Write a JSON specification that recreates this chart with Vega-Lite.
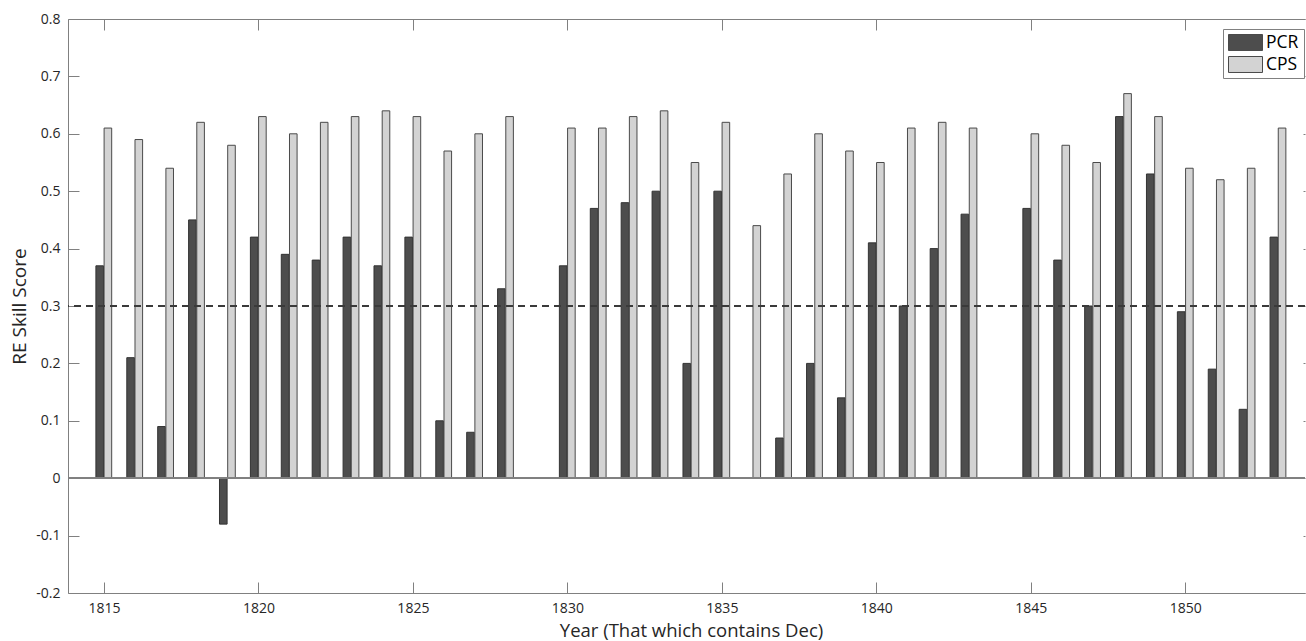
{
  "$schema": "https://vega.github.io/schema/vega-lite/v6.json",
  "autosize": {"type": "none"},
  "padding": {"left": 68, "top": 19, "right": 1, "bottom": 48},
  "width": 1237,
  "height": 574,
  "config": {
    "font": "Open Sans",
    "view": {"stroke": null},
    "axis": {"grid": false, "domainColor": "#808080", "tickColor": "#808080", "labelColor": "#262626", "titleColor": "#262626", "labelFontSize": 14, "titleFontSize": 18.5, "titleFontWeight": "normal"}
  },
  "data": {
    "values": [
      {"year": 1815, "series": "PCR", "value": 0.37}, {"year": 1815, "series": "CPS", "value": 0.61},
      {"year": 1816, "series": "PCR", "value": 0.21}, {"year": 1816, "series": "CPS", "value": 0.59},
      {"year": 1817, "series": "PCR", "value": 0.09}, {"year": 1817, "series": "CPS", "value": 0.54},
      {"year": 1818, "series": "PCR", "value": 0.45}, {"year": 1818, "series": "CPS", "value": 0.62},
      {"year": 1819, "series": "PCR", "value": -0.08}, {"year": 1819, "series": "CPS", "value": 0.58},
      {"year": 1820, "series": "PCR", "value": 0.42}, {"year": 1820, "series": "CPS", "value": 0.63},
      {"year": 1821, "series": "PCR", "value": 0.39}, {"year": 1821, "series": "CPS", "value": 0.60},
      {"year": 1822, "series": "PCR", "value": 0.38}, {"year": 1822, "series": "CPS", "value": 0.62},
      {"year": 1823, "series": "PCR", "value": 0.42}, {"year": 1823, "series": "CPS", "value": 0.63},
      {"year": 1824, "series": "PCR", "value": 0.37}, {"year": 1824, "series": "CPS", "value": 0.64},
      {"year": 1825, "series": "PCR", "value": 0.42}, {"year": 1825, "series": "CPS", "value": 0.63},
      {"year": 1826, "series": "PCR", "value": 0.10}, {"year": 1826, "series": "CPS", "value": 0.57},
      {"year": 1827, "series": "PCR", "value": 0.08}, {"year": 1827, "series": "CPS", "value": 0.60},
      {"year": 1828, "series": "PCR", "value": 0.33}, {"year": 1828, "series": "CPS", "value": 0.63},
      {"year": 1830, "series": "PCR", "value": 0.37}, {"year": 1830, "series": "CPS", "value": 0.61},
      {"year": 1831, "series": "PCR", "value": 0.47}, {"year": 1831, "series": "CPS", "value": 0.61},
      {"year": 1832, "series": "PCR", "value": 0.48}, {"year": 1832, "series": "CPS", "value": 0.63},
      {"year": 1833, "series": "PCR", "value": 0.50}, {"year": 1833, "series": "CPS", "value": 0.64},
      {"year": 1834, "series": "PCR", "value": 0.20}, {"year": 1834, "series": "CPS", "value": 0.55},
      {"year": 1835, "series": "PCR", "value": 0.50}, {"year": 1835, "series": "CPS", "value": 0.62},
      {"year": 1836, "series": "CPS", "value": 0.44},
      {"year": 1837, "series": "PCR", "value": 0.07}, {"year": 1837, "series": "CPS", "value": 0.53},
      {"year": 1838, "series": "PCR", "value": 0.20}, {"year": 1838, "series": "CPS", "value": 0.60},
      {"year": 1839, "series": "PCR", "value": 0.14}, {"year": 1839, "series": "CPS", "value": 0.57},
      {"year": 1840, "series": "PCR", "value": 0.41}, {"year": 1840, "series": "CPS", "value": 0.55},
      {"year": 1841, "series": "PCR", "value": 0.30}, {"year": 1841, "series": "CPS", "value": 0.61},
      {"year": 1842, "series": "PCR", "value": 0.40}, {"year": 1842, "series": "CPS", "value": 0.62},
      {"year": 1843, "series": "PCR", "value": 0.46}, {"year": 1843, "series": "CPS", "value": 0.61},
      {"year": 1845, "series": "PCR", "value": 0.47}, {"year": 1845, "series": "CPS", "value": 0.60},
      {"year": 1846, "series": "PCR", "value": 0.38}, {"year": 1846, "series": "CPS", "value": 0.58},
      {"year": 1847, "series": "PCR", "value": 0.30}, {"year": 1847, "series": "CPS", "value": 0.55},
      {"year": 1848, "series": "PCR", "value": 0.63}, {"year": 1848, "series": "CPS", "value": 0.67},
      {"year": 1849, "series": "PCR", "value": 0.53}, {"year": 1849, "series": "CPS", "value": 0.63},
      {"year": 1850, "series": "PCR", "value": 0.29}, {"year": 1850, "series": "CPS", "value": 0.54},
      {"year": 1851, "series": "PCR", "value": 0.19}, {"year": 1851, "series": "CPS", "value": 0.52},
      {"year": 1852, "series": "PCR", "value": 0.12}, {"year": 1852, "series": "CPS", "value": 0.54},
      {"year": 1853, "series": "PCR", "value": 0.42}, {"year": 1853, "series": "CPS", "value": 0.61}
    ]
  },
  "layer": [
    {
      "transform": [{"filter": {"field": "series", "equal": "PCR"}}],
      "mark": {"type": "bar", "width": 7.6, "xOffset": -4.2, "stroke": "#333333", "strokeWidth": 1},
      "encoding": {
        "x": {"field": "year", "type": "quantitative",
              "scale": {"domain": [1814, 1853.71], "nice": false, "zero": false},
              "axis": {"orient": "bottom", "values": [1815, 1820, 1825, 1830, 1835, 1840, 1845, 1850], "format": "d",
                       "tickSize": -11, "labelPadding": 19, "title": "Year (That which contains Dec)",
                       "titleX": 623, "titleY": 43, "titleBaseline": "alphabetic", "titleAlign": "center"}},
        "y": {"field": "value", "type": "quantitative",
              "scale": {"domain": [-0.2, 0.8], "nice": false, "zero": false},
              "axis": {"orient": "left", "values": [-0.2, -0.1, 0, 0.1, 0.2, 0.3, 0.4, 0.5, 0.6, 0.7, 0.8],
                       "labelExpr": "datum.value < 0 ? '-' + format(-datum.value, '.1~f') : format(datum.value, '.1~f')",
                       "tickSize": -11, "labelPadding": 19, "title": "RE Skill Score", "titleFontSize": 19,
                       "titleX": -43, "titleY": 287, "titleBaseline": "alphabetic", "titleAlign": "center", "titleAngle": -90}},
        "color": {"field": "series", "type": "nominal",
                  "scale": {"domain": ["PCR", "CPS"], "range": ["#4d4d4d", "#d3d3d3"]},
                  "legend": {"orient": "none", "legendX": 1155, "legendY": 10, "title": null,
                             "symbolType": "M-1,-0.47H1V0.47H-1Z", "symbolSize": 1156, "clipHeight": 17,
                             "symbolStrokeColor": "#333333", "symbolStrokeWidth": 1, "symbolOpacity": 1,
                             "labelFontSize": 17.5, "labelColor": "#000000", "labelOffset": 3,
                             "rowPadding": 4, "padding": 5, "strokeColor": "#808080", "fillColor": "#ffffff"}}
      }
    },
    {
      "transform": [{"filter": {"field": "series", "equal": "CPS"}}],
      "mark": {"type": "bar", "width": 7.6, "xOffset": 4.0, "stroke": "#4a4a4a", "strokeWidth": 1},
      "encoding": {
        "x": {"field": "year", "type": "quantitative",
              "axis": {"orient": "top", "values": [1815, 1820, 1825, 1830, 1835, 1840, 1845, 1850],
                       "tickSize": -11, "labels": false, "title": null}},
        "y": {"field": "value", "type": "quantitative",
              "axis": {"orient": "right", "values": [-0.2, -0.1, 0, 0.1, 0.2, 0.3, 0.4, 0.5, 0.6, 0.7, 0.8],
                       "tickSize": -2, "labels": false, "domain": false, "title": null}},
        "color": {"field": "series", "type": "nominal"}
      }
    },
    {
      "mark": {"type": "rule", "color": "#808080", "strokeWidth": 1},
      "encoding": {"y": {"datum": 0, "axis": null}}
    },
    {
      "mark": {"type": "rule", "color": "#3a3a3a", "strokeWidth": 1, "strokeDash": [7, 5]},
      "encoding": {"y": {"datum": 0.3, "axis": null}}
    }
  ],
  "resolve": {"axis": {"x": "independent", "y": "independent"}}
}
